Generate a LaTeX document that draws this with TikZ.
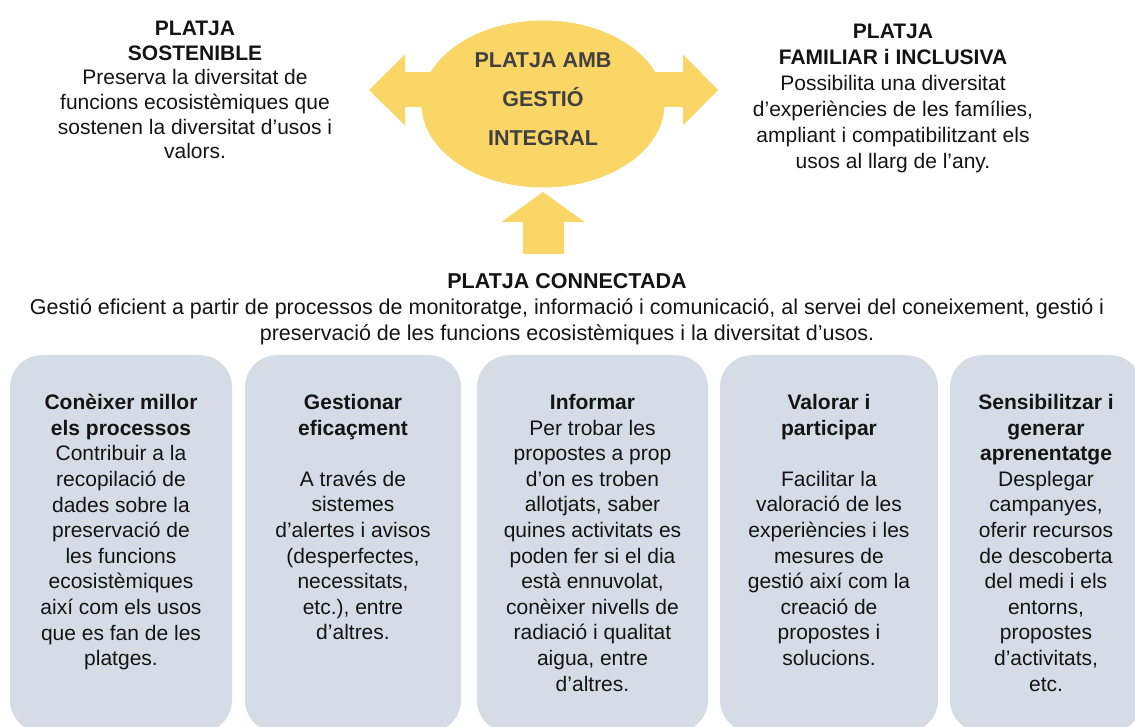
\documentclass[tikz,border=0pt]{standalone}
\usepackage{fontspec}
\setmainfont{Liberation Sans}
\usepackage{tikz}
\usetikzlibrary{shapes.geometric, positioning, arrows.meta}

\definecolor{platjagold}{RGB}{250,214,102}
\definecolor{panelgray}{RGB}{214,220,229}
\definecolor{hubtext}{RGB}{64,64,64}
\definecolor{bodytext}{RGB}{20,20,20}

\begin{document}
\begin{tikzpicture}[x=1pt, y=-1pt,
    body/.style={align=center, inner sep=0pt, text=bodytext,
      font=\fontsize{21}{25.6}\selectfont},
    panel/.style={fill=panelgray, rounded corners=32pt, anchor=north,
      minimum height=377pt, inner sep=0pt},
    goldarrow/.style={draw=platjagold, line width=35pt}]
  \useasboundingbox (0,0) rectangle (1135,727);
  \clip (0,0) rectangle (1135,727);

  % big arrows, behind the hub
  \coordinate (ltip) at (369,90);
  \coordinate (rtip) at (718,90);
  \coordinate (ubase) at (543,254);
  \coordinate (utip) at (543,192);
  \draw[goldarrow,
    {Triangle[length=36pt,width=71pt,line width=0pt]}-{Triangle[length=35pt,width=71pt,line width=0pt]}]
    (ltip) -- (rtip);
  \draw[goldarrow, line width=41pt,
    -{Triangle[length=30pt,width=83pt,line width=0pt]}] (ubase) -- (utip);

  \node[ellipse, fill=platjagold, minimum width=243pt, minimum height=167pt,
    inner sep=0pt] (hub) at (543,104) {};
  \node[align=center, inner sep=0pt, text=hubtext,
    font=\bfseries\fontsize{21.5}{39}\selectfont] (hubtxt)
    at ([yshift=5pt]hub.center) {PLATJA AMB\\GESTIÓ\\INTEGRAL};

  \node[body, anchor=north, font=\fontsize{21}{24.6}\selectfont] (sost) at (195,21)
  {\textbf{PLATJA}\\\textbf{SOSTENIBLE}\\Preserva la diversitat de\\
    funcions ecosistèmiques que\\sostenen la diversitat d’usos i\\valors.};
  \node[body, anchor=north, font=\fontsize{21}{26}\selectfont] (famil) at (893,24)
  {\textbf{PLATJA}\\\textbf{FAMILIAR i INCLUSIVA}\\Possibilita una diversitat\\
    d’experiències de les famílies,\\ampliant i compatibilitzant els\\
    usos al llarg de l’any.};
  \node[body, anchor=north, font=\fontsize{21.5}{26}\selectfont] (conn) at (567,273)
  {\textbf{PLATJA CONNECTADA}\\
    Gestió eficient a partir de processos de monitoratge, informació i comunicació, al servei del coneixement, gestió i\\
    preservació de les funcions ecosistèmiques i la diversitat d’usos.};

  % the five panels
  \node[panel, minimum width=222pt] (coneix) at (121,355) {};
  \node[panel, minimum width=216pt] (gestio) at (353,355) {};
  \node[panel, minimum width=231pt] (informa) at (592.5,355) {};
  \node[panel, minimum width=218pt] (valora) at (829,355) {};
  \node[panel, minimum width=192pt] (sensib) at (1046,355) {};

  \node[body, below=39pt of coneix.north] (coneixtxt)
  {\textbf{Conèixer millor}\\\textbf{els processos}\\Contribuir a la\\recopilació de\\
    dades sobre la\\preservació de\\les funcions\\ecosistèmiques\\
    així com els usos\\que es fan de les\\platges.};
  \node[body, below=39pt of gestio.north] (gestiotxt)
  {\textbf{Gestionar}\\\textbf{eficaçment}\\[25.6pt]A través de\\sistemes\\
    d’alertes i avisos\\(desperfectes,\\necessitats,\\etc.), entre\\d’altres.};
  \node[body, below=39pt of informa.north] (informatxt)
  {\textbf{Informar}\\Per trobar les\\propostes a prop\\d’on es troben\\
    allotjats, saber\\quines activitats es\\poden fer si el dia\\està ennuvolat,\\
    conèixer nivells de\\radiació i qualitat\\aigua, entre\\d’altres.};
  \node[body, below=39pt of valora.north] (valoratxt)
  {\textbf{Valorar i}\\\textbf{participar}\\[25.6pt]Facilitar la\\valoració de les\\
    experiències i les\\mesures de\\gestió així com la\\creació de\\
    propostes i\\solucions.};
  \node[body, below=39pt of sensib.north] (sensibtxt)
  {\textbf{Sensibilitzar i}\\\textbf{generar}\\\textbf{aprenentatge}\\Desplegar\\
    campanyes,\\oferir recursos\\de descoberta\\del medi i els\\entorns,\\
    propostes\\d’activitats,\\etc.};
\end{tikzpicture}
\end{document}
